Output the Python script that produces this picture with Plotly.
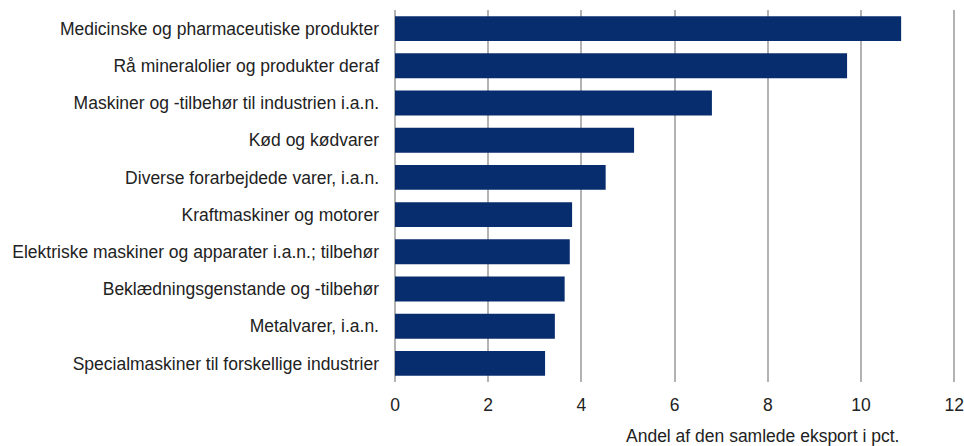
import plotly.graph_objects as go

categories = [
    "Medicinske og pharmaceutiske produkter",
    "Rå mineralolier og produkter deraf",
    "Maskiner og -tilbehør til industrien i.a.n.",
    "Kød og kødvarer",
    "Diverse forarbejdede varer, i.a.n.",
    "Kraftmaskiner og motorer",
    "Elektriske maskiner og apparater i.a.n.; tilbehør",
    "Beklædningsgenstande og -tilbehør",
    "Metalvarer, i.a.n.",
    "Specialmaskiner til forskellige industrier",
]
values = [10.86, 9.70, 6.80, 5.13, 4.52, 3.80, 3.75, 3.64, 3.43, 3.22]
x_ticks = [0, 2, 4, 6, 8, 10, 12]
x_title = "Andel af den samlede eksport i pct."

font_family = "Liberation Sans, Arial, sans-serif"

fig = go.Figure()
fig.add_trace(go.Bar(
    x=values,
    y=categories,
    orientation="h",
    marker=dict(color="#082d6e", line=dict(width=0)),
))

fig.update_layout(
    width=964,
    height=446,
    margin=dict(l=395, r=6, t=10, b=64, autoexpand=False),
    plot_bgcolor="white",
    paper_bgcolor="white",
    bargap=0.33,
    showlegend=False,
    font=dict(family=font_family, size=17.5, color="#222222"),
    annotations=[dict(
        text=x_title, xref="paper", yref="paper", x=(901 - 395) / 563, y=-0.146,
        xanchor="right", yanchor="middle", showarrow=False,
        font=dict(size=17.5, color="#222222"),
    )],
)
fig.update_xaxes(
    range=[0, 12.08],
    tickvals=x_ticks,
    showgrid=True,
    gridcolor="#b3b3b3",
    gridwidth=2,
    zeroline=True,
    zerolinecolor="#b3b3b3",
    zerolinewidth=2,
    showline=False,
    ticks="",
    ticklabelstandoff=10,
    ticklabeloverflow="allow",
    automargin=False,
)
fig.update_yaxes(
    autorange="reversed",
    showgrid=False,
    ticks="",
    ticklabelstandoff=15,
    automargin=False,
)

# drop the default 8px body margin so the figure fills the window exactly
fig.write_html("out.html", config={"displayModeBar": False},
               post_script="document.body.style.margin = '0';")
